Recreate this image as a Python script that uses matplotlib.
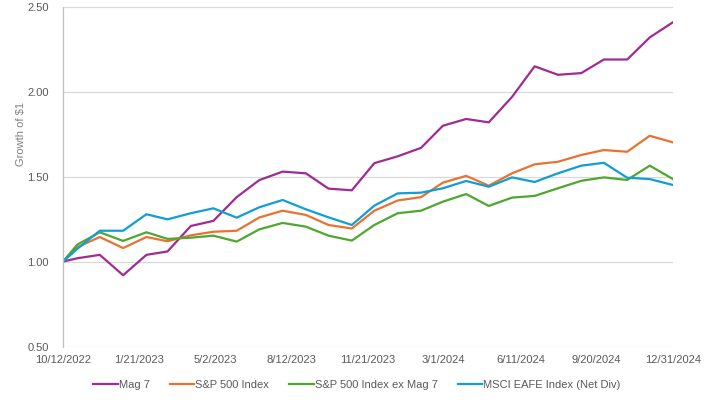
import pandas as pd
import matplotlib
matplotlib.use('Agg')
import matplotlib.pyplot as plt

plt.rcParams['font.family'] = ['Liberation Sans', 'DejaVu Sans']

dates = pd.to_datetime(['2022-10-12', '2022-10-31', '2022-11-30', '2022-12-31',
                        '2023-01-31', '2023-02-28', '2023-03-31', '2023-04-30',
                        '2023-05-31', '2023-06-30', '2023-07-31', '2023-08-31',
                        '2023-09-30', '2023-10-31', '2023-11-30', '2023-12-31',
                        '2024-01-31', '2024-02-29', '2024-03-31', '2024-04-30',
                        '2024-05-31', '2024-06-30', '2024-07-31', '2024-08-31',
                        '2024-09-30', '2024-10-31', '2024-11-30', '2024-12-31'])

mag7 = [1.00, 1.02, 1.04, 0.92, 1.04, 1.06, 1.21, 1.24, 1.38, 1.48, 1.53, 1.52, 1.43, 1.42,
        1.58, 1.62, 1.67, 1.80, 1.84, 1.82, 1.97, 2.15, 2.10, 2.11, 2.19, 2.19, 2.32, 2.41]
sp500 = [1.00, 1.085, 1.145, 1.08, 1.145, 1.12, 1.155, 1.176, 1.182, 1.26, 1.30, 1.275, 1.216, 1.195,
         1.30, 1.36, 1.38, 1.465, 1.505, 1.447, 1.52, 1.573, 1.588, 1.628, 1.657, 1.647, 1.741, 1.702]
sp500_ex = [1.00, 1.10, 1.173, 1.122, 1.173, 1.134, 1.141, 1.153, 1.118, 1.19, 1.228, 1.206, 1.153, 1.124,
            1.216, 1.285, 1.30, 1.353, 1.398, 1.328, 1.377, 1.387, 1.432, 1.476, 1.496, 1.481, 1.565, 1.486]
eafe = [1.00, 1.075, 1.182, 1.182, 1.279, 1.249, 1.285, 1.314, 1.259, 1.32, 1.363, 1.308, 1.261, 1.216,
        1.33, 1.402, 1.406, 1.432, 1.475, 1.441, 1.496, 1.469, 1.52, 1.565, 1.582, 1.494, 1.486, 1.451]

series_names = ['Mag 7', 'S&P 500 Index', 'S&P 500 Index ex Mag 7', 'MSCI EAFE Index (Net Div)']
colors = ['#A02B93', '#E97132', '#4EA72E', '#0F9ED5']

xtick_labels = ['10/12/2022', '1/21/2023', '5/2/2023', '8/12/2023', '11/21/2023',
                '3/1/2024', '6/11/2024', '9/20/2024', '12/31/2024']
ytick_values = [0.50, 1.00, 1.50, 2.00, 2.50]

text_color = '#595959'

fig = plt.figure(figsize=(7.07, 4.03), dpi=100)
ax = fig.add_axes([0.089, 0.140, 0.863, 0.843])

for vals, name, c in zip([mag7, sp500, sp500_ex, eafe], series_names, colors):
    ax.plot(dates, vals, color=c, lw=1.6, label=name, solid_joinstyle='round')

tick_dates = pd.to_datetime(xtick_labels, format='%m/%d/%Y')
ax.set_xlim(tick_dates[0], tick_dates[-1])
ax.set_xticks(tick_dates)
ax.set_xticklabels(xtick_labels)
ax.set_ylim(0.5, 2.5)
ax.set_yticks(ytick_values)
ax.set_yticklabels([f'{v:.2f}' for v in ytick_values])

ax.grid(axis='y', color='#D9D9D9', lw=0.9)
ax.set_axisbelow(True)
for s in ['top', 'right', 'bottom']:
    ax.spines[s].set_visible(False)
ax.spines['left'].set_color('#BFBFBF')
ax.spines['left'].set_linewidth(0.9)
ax.tick_params(length=0, labelsize=8, labelcolor=text_color)
ax.tick_params(axis='x', pad=6)
ax.tick_params(axis='y', pad=10)

ax.set_ylabel('Growth of $1', fontsize=8, color='#7F7F7F')
ax.yaxis.set_label_coords(-0.06, 0.626)

fig.legend(loc='center', bbox_to_anchor=(0.505, 0.045), ncol=4, frameon=False,
           fontsize=8, handlelength=2.2, handletextpad=0.1, columnspacing=1.8,
           labelcolor=text_color)

fig.savefig('out.png', dpi=100)
